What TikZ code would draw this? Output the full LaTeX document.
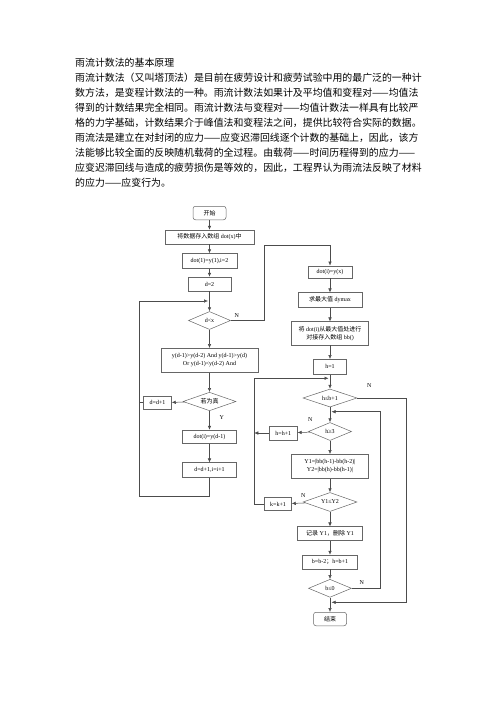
\documentclass[tikz,border=0pt]{standalone}
\usepackage{fontspec}
\setmainfont{Liberation Serif}
\newfontfamily\cjk{Noto Sans CJK SC}
\usetikzlibrary{shapes.geometric,arrows.meta}

\tikzstyle{box} = [rectangle,draw=black!60,line width=0.5pt,inner sep=0pt,font=\fontsize{6}{8}\selectfont,align=center]
\tikzstyle{term} = [box,rounded corners=2.5pt]
\tikzstyle{test} = [diamond,draw=black!60,line width=0.5pt,inner sep=0pt,aspect=3,font=\fontsize{6}{8}\selectfont]
\tikzstyle{flow} = [draw=black!70,line width=0.5pt]
\tikzstyle{lab} = [font=\fontsize{6}{7}\selectfont,inner sep=0pt]
\tikzstyle{para} = [anchor=west,inner sep=0pt,font=\fontsize{9.9}{15}\selectfont\cjk]

\begin{document}
\begin{tikzpicture}[x=1pt,y=-1pt,>={Latex[length=4pt,width=3.5pt]}]
    \useasboundingbox (0,0) rectangle (496,702);
	% text above the chart
	\node[para] (title) at (75,63) {雨流计数法的基本原理};
	\node[para] (l1) at (75,78) {雨流计数法（又叫塔顶法）是目前在疲劳设计和疲劳试验中用的最广泛的一种计};
	\node[para] (l2) at (75,93) {数方法，是变程计数法的一种。雨流计数法如果计及平均值和变程对——均值法};
	\node[para] (l3) at (75,108) {得到的计数结果完全相同。雨流计数法与变程对——均值计数法一样具有比较严};
	\node[para] (l4) at (75,123) {格的力学基础，计数结果介于峰值法和变程法之间，提供比较符合实际的数据。};
	\node[para] (l5) at (75,138) {雨流法是建立在对封闭的应力——应变迟滞回线逐个计数的基础上，因此，该方};
	\node[para] (l6) at (75,153) {法能够比较全面的反映随机载荷的全过程。由载荷——时间历程得到的应力——};
	\node[para] (l7) at (75,168) {应变迟滞回线与造成的疲劳损伤是等效的，因此，工程界认为雨流法反映了材料};
	\node[para] (l8) at (75,183) {的应力——应变行为。};
	% left column
	\node[term,minimum width=33pt,minimum height=13.5pt] (start) at (209.5,213) {\cjk 开始};
	\node[box,minimum width=89pt,minimum height=14pt] (input) at (209.5,237) {{\cjk 将数据存入数组} dot(x){\cjk 中}};
	\node[box,minimum width=55pt,minimum height=15pt] (init) at (209.5,261) {dot(1)=y(1),i=2};
	\node[box,minimum width=43pt,minimum height=14pt] (dset) at (209.5,284) {d=2};
	\node[test,minimum width=42pt,minimum height=18pt] (dlt) at (209.5,320.5) {d\textless x};
	\node[box,minimum width=97pt,minimum height=24pt] (cond) at (209.5,360.3) {y(d-1)\textgreater y(d-2) And y(d-1)\textgreater y(d)\\Or y(d-1)\textless y(d-2) And};
	\node[test,minimum width=53pt,minimum height=18.5pt] (istrue) at (209.5,401.5) {\cjk 若为真};
	\node[box,minimum width=28pt,minimum height=13.3pt] (dinc) at (157.5,402.7) {d=d+1};
	\node[box,minimum width=54pt,minimum height=13.3pt] (save) at (209.5,436.7) {dot(i)=y(d-1)};
	\node[box,minimum width=54pt,minimum height=14.7pt] (next) at (209.5,470) {d=d+1,i=i+1};
	% right column
	\node[box,minimum width=44pt,minimum height=12.3pt] (last) at (330,272) {dot(i)=y(x)};
	\node[box,minimum width=64pt,minimum height=14.7pt] (ymax) at (330,300) {{\cjk 求最大值} dymax};
	\node[box,minimum width=77pt,minimum height=23.3pt] (shift) at (330,333.3) {{\cjk 将} dot(i){\cjk 从最大值处进行}\\{\cjk 对接存入数组} bb()};
	\node[box,minimum width=33pt,minimum height=15pt] (hone) at (330,366.8) {h=1};
	\node[test,minimum width=54pt,minimum height=18pt] (hchk) at (330,398) {h≤b+1};
	\node[test,minimum width=43pt,minimum height=18pt] (hge) at (330,431.5) {h≥3};
	\node[box,minimum width=28pt,minimum height=14pt] (hinc) at (283.3,433) {h=h+1};
	\node[box,minimum width=77pt,minimum height=24pt] (calc) at (330,466.3) {Y1=|bb(h-1)-bb(h-2)|\\Y2=|bb(h)-bb(h-1)|};
	\node[test,minimum width=54pt,minimum height=19pt] (cmp) at (330,502) {Y1≤Y2};
	\node[box,minimum width=27pt,minimum height=13.3pt] (kinc) at (278,504) {k=k+1};
	\node[box,minimum width=65pt,minimum height=14pt] (rec) at (330,533.7) {{\cjk 记录} Y1{\cjk ，删除} Y1};
	\node[box,minimum width=55pt,minimum height=14pt] (bdec) at (330,562) {b=b-2{\cjk ；}h=b+1};
	\node[test,minimum width=43pt,minimum height=18pt] (bchk) at (330,588.3) {b≤0};
	\node[term,minimum width=33pt,minimum height=13.5pt] (stop) at (330,619) {\cjk 结束};
	% bends of the connectors
	\coordinate (loopb) at (139,496);
	\coordinate (loopt) at (208,301);
	\coordinate (nup) at (264.7,245.7);
	\coordinate (kup) at (254.3,378.3);
	\coordinate (hmrg) at (328.5,378.3);
	\coordinate (bup) at (380,411.7);
	\coordinate (gmrg) at (331.5,411.7);
	\coordinate (hdown) at (406.7,602.3);
	\coordinate (smrg) at (331.5,602.3);
	% connectors
	\draw[flow,->] (start) -- (input);
	\draw[flow,->] (input) -- (init);
	\draw[flow,->] (init) -- (dset);
	\draw[flow,->] (dset) -- (dlt);
	\draw[flow,->] (dlt) -- (cond);
	\draw[flow,->] (cond) -- (istrue);
	\draw[flow,->] (istrue) -- (save);
	\draw[flow,->] (save) -- (next);
	\draw[flow,->] (istrue) -- (dinc);
	\draw[flow] (dinc.west) -- (dinc.west -| loopb);
	\draw[flow,->] (next.south) |- (loopb) |- (loopt);
	\draw[flow,->] (dlt.east) -| (nup) -| (last.north);
	\draw[flow,->] (last) -- (ymax);
	\draw[flow,->] (ymax) -- (shift);
	\draw[flow,->] (shift) -- (hone);
	\draw[flow,->] (hone) -- (hchk);
	\draw[flow,->] (hchk) -- (hge);
	\draw[flow,->] (hge) -- (hinc);
	\draw[flow,->] (hinc.west) -- (hinc.west -| kup);
	\draw[flow,->] (hge) -- (calc);
	\draw[flow,->] (calc) -- (cmp);
	\draw[flow,->] (cmp) -- (kinc);
	\draw[flow,->] (kinc.west) -| (kup) -- (hmrg);
	\draw[flow,->] (cmp) -- (rec);
	\draw[flow,->] (rec) -- (bdec);
	\draw[flow,->] (bdec) -- (bchk);
	\draw[flow,->] (bchk) -- (stop);
	\draw[flow,->] (bchk.east) -| (bup) -- (gmrg);
	\draw[flow,->] (hchk.east) -| (hdown) -- (smrg);
	% branch labels
	\node[lab] (ndlt) at (236.7,315.3) {N};
	\node[lab] (ytrue) at (221.7,417.3) {Y};
	\node[lab] (nhchk) at (369.3,386) {N};
	\node[lab] (nhge) at (310.3,420) {N};
	\node[lab] (ncmp) at (303.3,496) {N};
	\node[lab] (nbchk) at (361.7,582.3) {N};
\end{tikzpicture}
\end{document}
